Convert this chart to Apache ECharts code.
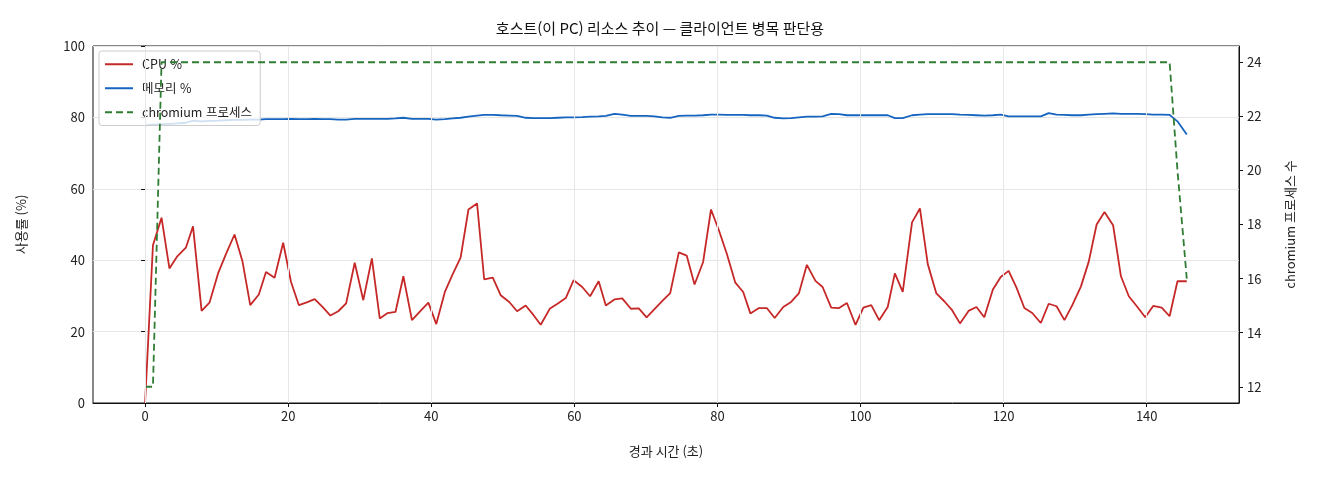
<!DOCTYPE html>
<html lang="ko">
<head>
<meta charset="UTF-8">
<title>호스트 리소스 추이</title>
<script src="https://cdn.jsdelivr.net/npm/echarts@6/dist/echarts.min.js"></script>
<style>
  html, body { margin: 0; padding: 0; background: #fff; }
  #chart { width: 1320px; height: 480px; }
</style>
</head>
<body>
<div id="chart"></div>
<script>
// 경과 시간 (초)
var elapsed = [
  0.0, 1.1, 2.3, 3.4, 4.5, 5.7, 6.7, 7.9, 9.0, 10.2,
  11.3, 12.5, 13.6, 14.7, 15.9, 16.9, 18.1, 19.3, 20.4, 21.5,
  22.6, 23.7, 24.8, 25.9, 27.0, 28.1, 29.3, 30.5, 31.7, 32.8,
  33.9, 35.0, 36.1, 37.3, 38.5, 39.6, 40.7, 41.9, 43.0, 44.1,
  45.2, 46.4, 47.4, 48.6, 49.7, 50.9, 52.0, 53.2, 54.3, 55.3,
  56.6, 57.7, 58.8, 59.9, 61.1, 62.2, 63.4, 64.4, 65.6, 66.7,
  67.9, 69.0, 70.1, 71.2, 72.3, 73.4, 74.6, 75.7, 76.8, 78.0,
  79.1, 80.2, 81.3, 82.5, 83.6, 84.6, 85.8, 86.9, 88.0, 89.2,
  90.3, 91.4, 92.5, 93.7, 94.7, 95.9, 97.0, 98.1, 99.3, 100.4,
  101.5, 102.6, 103.8, 104.8, 105.9, 107.2, 108.3, 109.4, 110.6, 111.7,
  112.8, 113.9, 115.1, 116.2, 117.3, 118.5, 119.6, 120.7, 121.8, 122.9,
  124.0, 125.2, 126.3, 127.4, 128.5, 129.6, 130.8, 131.9, 133.0, 134.1,
  135.3, 136.4, 137.5, 138.7, 139.8, 140.9, 142.1, 143.2, 144.3, 145.6
];

var cpuPct = [
  0, 44.2, 51.9, 37.7, 41.1, 43.5, 49.5, 25.8, 28.1, 36.3,
  41.7, 47.2, 39.8, 27.4, 30.4, 36.7, 35.1, 44.9, 33.9, 27.4,
  28.2, 29.1, 26.9, 24.5, 25.7, 27.9, 39.3, 28.8, 40.5, 23.7,
  25.2, 25.5, 35.5, 23.2, 25.8, 28.1, 22.1, 31.1, 36.1, 40.7,
  54.2, 55.9, 34.6, 35.1, 30.2, 28.3, 25.7, 27.3, 24.6, 21.9,
  26.5, 27.9, 29.4, 34.4, 32.5, 29.9, 34.1, 27.3, 29.0, 29.3,
  26.4, 26.5, 24.0, 26.3, 28.6, 30.8, 42.2, 41.3, 33.2, 39.5,
  54.2, 48.4, 41.9, 33.7, 31.1, 25.1, 26.6, 26.6, 23.8, 26.9,
  28.3, 30.8, 38.7, 34.2, 32.5, 26.7, 26.6, 28.0, 21.9, 26.7,
  27.4, 23.2, 26.9, 36.3, 31.1, 50.6, 54.5, 38.9, 30.7, 28.5,
  26.0, 22.3, 25.8, 26.9, 24.0, 31.8, 35.3, 37.0, 32.3, 26.6,
  25.2, 22.4, 27.8, 27.1, 23.2, 27.4, 32.6, 39.6, 50.0, 53.5,
  49.8, 35.5, 29.9, 26.9, 24.0, 27.2, 26.7, 24.3, 34.1, 34.1
];

var memPct = [
  77.8, 78.0, 78.1, 78.2, 78.3, 78.5, 79.1, 78.9, 79.0, 79.1,
  79.2, 79.3, 79.3, 79.4, 79.4, 79.5, 79.5, 79.5, 79.6, 79.5,
  79.5, 79.6, 79.5, 79.5, 79.4, 79.4, 79.6, 79.6, 79.6, 79.6,
  79.6, 79.7, 79.9, 79.6, 79.6, 79.6, 79.4, 79.5, 79.7, 79.9,
  80.2, 80.5, 80.7, 80.7, 80.6, 80.5, 80.4, 79.9, 79.8, 79.8,
  79.8, 79.9, 80.0, 80.0, 80.1, 80.2, 80.3, 80.4, 81.0, 80.8,
  80.4, 80.4, 80.4, 80.3, 80.0, 79.9, 80.4, 80.5, 80.5, 80.6,
  80.8, 80.8, 80.7, 80.7, 80.7, 80.6, 80.6, 80.5, 79.9, 79.7,
  79.8, 80.0, 80.2, 80.2, 80.3, 81.0, 80.9, 80.6, 80.6, 80.6,
  80.6, 80.6, 80.6, 79.8, 79.8, 80.6, 80.8, 80.9, 80.9, 80.9,
  80.9, 80.8, 80.7, 80.6, 80.5, 80.6, 80.8, 80.3, 80.3, 80.3,
  80.3, 80.3, 81.2, 80.8, 80.7, 80.6, 80.6, 80.8, 80.9, 81.0,
  81.1, 81.0, 81.0, 81.0, 80.9, 80.8, 80.8, 80.7, 78.9, 75.2
];

var procCount = [
  12, 12, 24, 24, 24, 24, 24, 24, 24, 24,
  24, 24, 24, 24, 24, 24, 24, 24, 24, 24,
  24, 24, 24, 24, 24, 24, 24, 24, 24, 24,
  24, 24, 24, 24, 24, 24, 24, 24, 24, 24,
  24, 24, 24, 24, 24, 24, 24, 24, 24, 24,
  24, 24, 24, 24, 24, 24, 24, 24, 24, 24,
  24, 24, 24, 24, 24, 24, 24, 24, 24, 24,
  24, 24, 24, 24, 24, 24, 24, 24, 24, 24,
  24, 24, 24, 24, 24, 24, 24, 24, 24, 24,
  24, 24, 24, 24, 24, 24, 24, 24, 24, 24,
  24, 24, 24, 24, 24, 24, 24, 24, 24, 24,
  24, 24, 24, 24, 24, 24, 24, 24, 24, 24,
  24, 24, 24, 24, 24, 24, 24, 24, 20, 16
];

var xTicks = [0, 20, 40, 60, 80, 100, 120, 140];
var rightTicks = [12, 14, 16, 18, 20, 22, 24];

function pairs(ys) {
  var out = [];
  for (var i = 0; i < ys.length; i++) out.push([elapsed[i], ys[i]]);
  return out;
}

var FONT = '"Noto Sans CJK KR", "Noto Sans", sans-serif';
var chart = echarts.init(document.getElementById('chart'), null, { renderer: 'canvas' });

var option = {
  animation: false,
  textStyle: { fontFamily: FONT },
  title: {
    text: '호스트(이 PC) 리소스 추이 — 클라이언트 병목 판단용',
    left: 'center',
    top: 16,
    textStyle: { fontFamily: FONT, fontSize: 15, fontWeight: 'normal', color: '#111' }
  },
  legend: {
    orient: 'vertical',
    left: 99,
    top: 51,
    itemWidth: 28,
    itemHeight: 14,
    itemGap: 11.5,
    padding: [7, 9, 7, 5],
    backgroundColor: 'rgba(255,255,255,0.8)',
    borderColor: '#cccccc',
    borderWidth: 1,
    borderRadius: 3,
    itemStyle: { opacity: 0 },
    textStyle: { fontFamily: FONT, fontSize: 12.5, color: '#222', padding: [0, 0, 0, 4] },
    data: ['CPU %', '메모리 %', 'chromium 프로세스']
  },
  grid: {
    left: 93, right: 81, top: 46, bottom: 77,
    show: true, borderColor: '#111', borderWidth: 1,
    containLabel: false
  },
  xAxis: {
    type: 'value',
    min: -7.28,
    max: 152.9,
    name: '경과 시간 (초)',
    nameLocation: 'middle',
    nameGap: 42,
    nameTextStyle: { fontFamily: FONT, fontSize: 13, color: '#222' },
    axisLine: { show: true, onZero: false, lineStyle: { color: '#111' } },
    axisTick: { show: true, length: 4, customValues: xTicks, lineStyle: { color: '#111' } },
    axisLabel: { customValues: xTicks, fontSize: 13, color: '#222', margin: 7, fontFamily: FONT },
    splitLine: { show: false }
  },
  yAxis: [
    {
      type: 'value',
      min: 0,
      max: 100,
      interval: 20,
      name: '사용률 (%)',
      nameLocation: 'middle',
      nameRotate: 90,
      nameGap: 65,
      nameTextStyle: { fontFamily: FONT, fontSize: 13, color: '#222' },
      axisLine: { show: true, lineStyle: { color: '#111' } },
      axisTick: { show: true, length: 4, lineStyle: { color: '#111' } },
      axisLabel: { fontSize: 13, color: '#222', margin: 8, fontFamily: FONT },
      splitLine: { show: true, lineStyle: { color: '#e6e6e6', width: 1 } }
    },
    {
      type: 'value',
      position: 'right',
      min: 11.4,
      max: 24.6,
      name: 'chromium 프로세스 수',
      nameLocation: 'middle',
      nameRotate: 90,
      nameGap: 45,
      nameTextStyle: { fontFamily: FONT, fontSize: 13, color: '#222' },
      axisLine: { show: true, lineStyle: { color: '#111' } },
      axisTick: { show: true, length: 4, customValues: rightTicks, lineStyle: { color: '#111' } },
      axisLabel: { customValues: rightTicks, fontSize: 13, color: '#222', margin: 8, fontFamily: FONT },
      splitLine: { show: false }
    }
  ],
  series: [
    {
      // vertical grid lines at the x tick positions
      name: 'xgrid',
      type: 'line',
      data: [],
      z: 1,
      silent: true,
      markLine: {
        silent: true,
        symbol: 'none',
        label: { show: false },
        lineStyle: { color: '#e6e6e6', width: 1, type: 'solid' },
        data: xTicks.map(function (v) { return { xAxis: v }; })
      }
    },
    {
      name: 'CPU %',
      type: 'line',
      data: pairs(cpuPct),
      symbol: 'none',
      z: 3,
      lineStyle: { color: '#c62828', width: 1.8 },
      itemStyle: { color: '#c62828' }
    },
    {
      name: '메모리 %',
      type: 'line',
      data: pairs(memPct),
      symbol: 'none',
      z: 3,
      lineStyle: { color: '#1565c0', width: 1.8 },
      itemStyle: { color: '#1565c0' }
    },
    {
      name: 'chromium 프로세스',
      type: 'line',
      yAxisIndex: 1,
      data: pairs(procCount),
      symbol: 'none',
      z: 4,
      lineStyle: { color: '#2e7d32', width: 1.8, type: [7, 4] },
      itemStyle: { color: '#2e7d32' }
    }
  ]
};

chart.setOption(option);
</script>
</body>
</html>
